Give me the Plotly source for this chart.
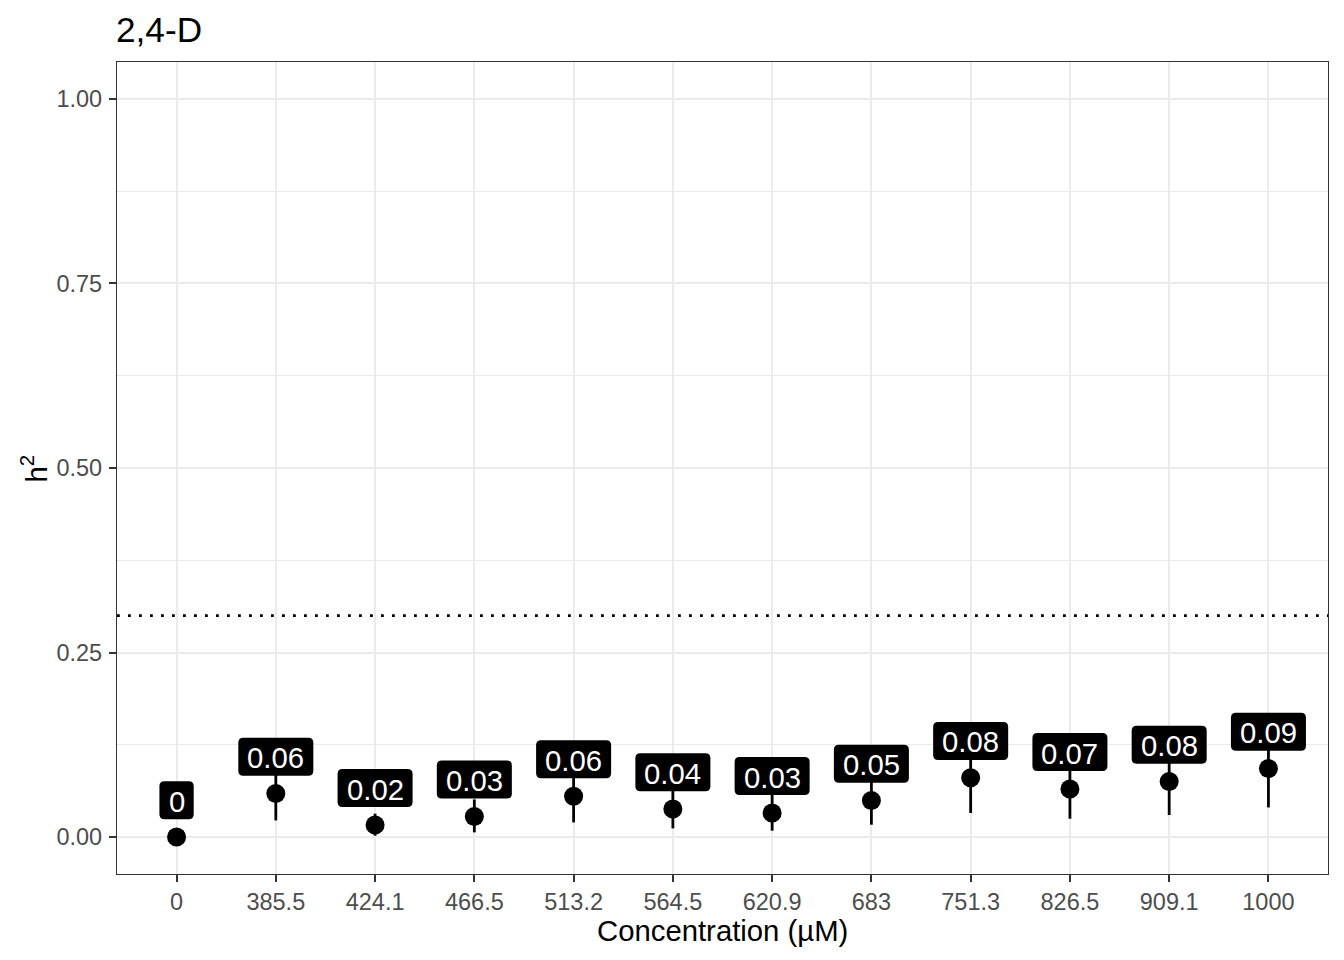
import plotly.graph_objects as go

# ---- data ----
concentrations = ["0", "385.5", "424.1", "466.5", "513.2", "564.5", "620.9",
                  "683", "751.3", "826.5", "909.1", "1000"]
h2_values = [0.0, 0.059, 0.0165, 0.028, 0.0553, 0.038, 0.0327,
             0.0495, 0.0803, 0.0652, 0.0752, 0.0928]
h2_lower = [0.0, 0.0226, 0.0019, 0.0064, 0.0199, 0.0118, 0.0087,
            0.0168, 0.0326, 0.0249, 0.0299, 0.0402]
h2_upper = [0.0, 0.095, 0.0317, 0.051, 0.090, 0.065, 0.060,
            0.082, 0.128, 0.105, 0.120, 0.145]
h2_labels = ["0", "0.06", "0.02", "0.03", "0.06", "0.04", "0.03",
             "0.05", "0.08", "0.07", "0.08", "0.09"]
threshold = 0.3
y_ticks = [0.0, 0.25, 0.5, 0.75, 1.0]
y_minor = [0.125, 0.375, 0.625, 0.875]
label_nudge = 0.05

FONT = "Liberation Sans, Arial, Helvetica, sans-serif"
x_pos = list(range(len(concentrations)))

fig = go.Figure()
fig.add_trace(go.Scatter(
    x=x_pos, y=h2_values, mode="markers",
    marker=dict(color="black", size=19, line=dict(width=0)),
    error_y=dict(type="data", symmetric=False,
                 array=[u - v for u, v in zip(h2_upper, h2_values)],
                 arrayminus=[v - l for v, l in zip(h2_values, h2_lower)],
                 width=0, thickness=2.8, color="black"),
    hoverinfo="skip", showlegend=False,
))

# label boxes (rounded) + text
char_w = {".": 0.278}
fs_label = 29.3
shapes = []
annotations = []
for i, (v, lab) in enumerate(zip(h2_values, h2_labels)):
    tw = sum(char_w.get(c, 0.556) for c in lab) * fs_label
    w = tw + 18
    h = 38
    r = 5
    x0, x1, y0, y1 = -w / 2, w / 2, -h / 2, h / 2
    path = (f"M {x0 + r},{y0} L {x1 - r},{y0} Q {x1},{y0} {x1},{y0 + r} "
            f"L {x1},{y1 - r} Q {x1},{y1} {x1 - r},{y1} L {x0 + r},{y1} "
            f"Q {x0},{y1} {x0},{y1 - r} L {x0},{y0 + r} Q {x0},{y0} {x0 + r},{y0} Z")
    shapes.append(dict(type="path", xref="x", yref="y",
                       xsizemode="pixel", ysizemode="pixel",
                       xanchor=i, yanchor=v + label_nudge, path=path,
                       fillcolor="black", line=dict(width=0), layer="above"))
    annotations.append(dict(x=i, y=v + label_nudge, xref="x", yref="y",
                            text=lab, showarrow=False, yshift=-1,
                            font=dict(family=FONT, size=fs_label, color="white")))

# dotted threshold line
shapes.append(dict(type="line", xref="paper", yref="y", x0=0, x1=1,
                   y0=threshold, y1=threshold,
                   line=dict(color="black", width=2.8, dash="2.8px,8.2px"),
                   layer="above"))

# titles
annotations.append(dict(text="Concentration (µM)", xref="paper", yref="paper",
                        x=0.5, y=-0.0698, xanchor="center", yanchor="middle",
                        showarrow=False, font=dict(family=FONT, size=29.3, color="black")))
annotations.append(dict(text="h<sup>2</sup>", xref="paper", yref="paper",
                        x=-0.069, y=0.5, xanchor="center", yanchor="middle",
                        textangle=-90, showarrow=False,
                        font=dict(family=FONT, size=29.3, color="black")))

fig.update_layout(
    width=1344, height=960,
    margin=dict(l=117, r=16, t=62, b=86, pad=0),
    paper_bgcolor="white", plot_bgcolor="white",
    font=dict(family=FONT, color="black"),
    title=dict(text="2,4-D", x=116 / 1344, xref="container", xanchor="left",
               y=1 - 30 / 960, yref="container", yanchor="middle",
               font=dict(family=FONT, size=35.2, color="black")),
    shapes=shapes, annotations=annotations,
    xaxis=dict(range=[-0.6, len(concentrations) - 0.4],
               tickmode="array", tickvals=x_pos, ticktext=concentrations,
               showgrid=True, gridcolor="#EBEBEB", gridwidth=2,
               zeroline=False, showline=True, mirror=True,
               linecolor="#333333", linewidth=1.2,
               ticks="outside", ticklen=7, tickwidth=2, tickcolor="#333333",
               tickfont=dict(family=FONT, size=23.5, color="#4D4D4D"),
               fixedrange=True),
    yaxis=dict(range=[-0.05, 1.05], tickmode="array", tickvals=y_ticks,
               ticktext=[f"{t:.2f}" for t in y_ticks],
               showgrid=True, gridcolor="#EBEBEB", gridwidth=2,
               minor=dict(tickmode="array", tickvals=y_minor, showgrid=True,
                          gridcolor="#EBEBEB", gridwidth=1, ticks=""),
               zeroline=False, showline=True, mirror=True,
               linecolor="#333333", linewidth=1.2,
               ticks="outside", ticklen=7, tickwidth=2, tickcolor="#333333",
               ticklabelstandoff=2,
               tickfont=dict(family=FONT, size=23.5, color="#4D4D4D"),
               fixedrange=True),
)

fig.write_html("out.html", config={"displayModeBar": False},
               post_script="document.body.style.margin='0';"
                           "document.body.style.overflow='hidden';")
